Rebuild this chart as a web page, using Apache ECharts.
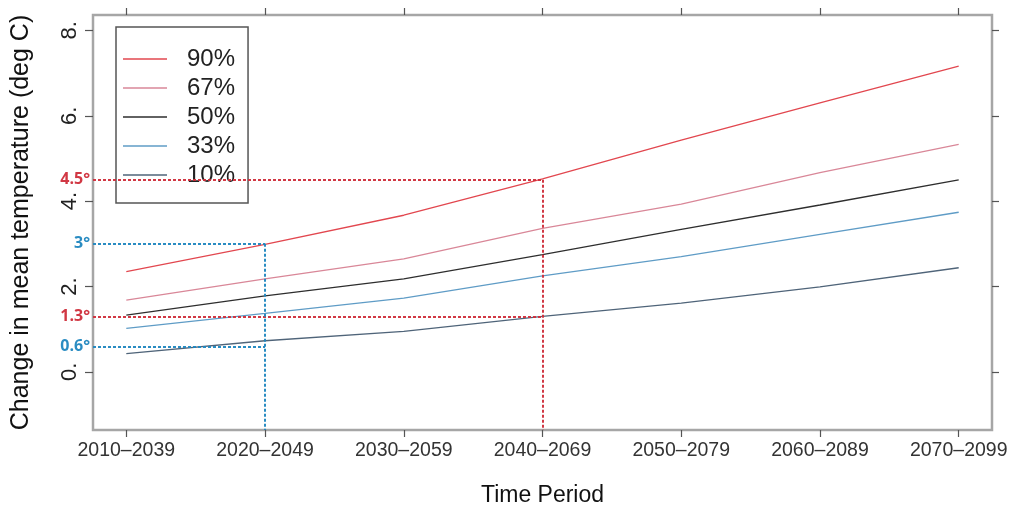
<!DOCTYPE html>
<html>
<head>
<meta charset="utf-8">
<script src="https://cdn.jsdelivr.net/npm/echarts@6/dist/echarts.min.js"></script>
<style>
  html, body { margin: 0; padding: 0; background: #ffffff; }
  #chart { width: 1010px; height: 506px; }
</style>
</head>
<body>
<div id="chart"></div>
<script>
// 30-year time periods on the x axis
const periods = ['2010\u20132039', '2020\u20132049', '2030\u20132059', '2040\u20132069',
                 '2050\u20132079', '2060\u20132089', '2070\u20132099'];

// Projected change in mean temperature (deg C) per probability level
const p90 = [2.35, 2.99, 3.67, 4.52, 5.43, 6.30, 7.16];
const p67 = [1.68, 2.18, 2.65, 3.36, 3.93, 4.67, 5.33];
const p50 = [1.33, 1.78, 2.18, 2.75, 3.34, 3.91, 4.50];
const p33 = [1.02, 1.37, 1.73, 2.25, 2.70, 3.22, 3.74];
const p10 = [0.43, 0.73, 0.95, 1.30, 1.61, 1.99, 2.44];

const seriesNames = ['90%', '67%', '50%', '33%', '10%'];

// y tick values and their printed labels
const yTicks = [0, 2, 4, 6, 8];
const yTickLabels = ['0.', '2.', '4.', '6.', '8.'];

// Highlighted readings: [value, period index, label]
const redMarks = [[4.5, 3, '4.5\u00b0'], [1.3, 3, '1.3\u00b0']];
const blueMarks = [[3, 1, '3\u00b0'], [0.6, 1, '0.6\u00b0']];

const X_MIN = -0.24, X_MAX = 6.24;
const Y_MIN = -1.36, Y_MAX = 8.36;
const X_TICKS = [0, 1, 2, 3, 4, 5, 6];

const colors = ['#e2474f', '#d98798', '#2e2e2e', '#5f9cc6', '#4f6479'];
const RED = '#cf2d3a', BLUE = '#1f86bf';
const FONT = '"Liberation Sans", Arial, Helvetica, sans-serif';
const TICK_STYLE = { color: '#555555', width: 1.2 };

function toPoints(arr) { return arr.map((v, i) => [i, v]); }

function refLines(marks, color, dropFrom) {
  const lines = [];
  marks.forEach(function (m) {
    lines.push([
      { coord: [X_MIN, m[0]], label: { formatter: m[2] } },
      { coord: [m[1], m[0]] }
    ]);
  });
  // vertical drop from the highest reading down to the axis
  lines.push([
    { coord: [dropFrom[1], dropFrom[0]], label: { show: false } },
    { coord: [dropFrom[1], Y_MIN] }
  ]);
  return {
    name: 'ref-' + color,
    type: 'line',
    data: [],
    silent: true,
    markLine: {
      silent: true,
      symbol: ['none', 'none'],
      animation: false,
      lineStyle: { color: color, width: 2, type: [3, 2], opacity: 0.95 },
      label: {
        show: true,
        position: 'start',
        distance: 3,
        color: color,
        fontFamily: '"Open Sans", sans-serif',
        fontWeight: 'bold',
        fontSize: 16
      },
      data: lines
    },
    z: 5
  };
}

const dataSeries = [p90, p67, p50, p33, p10].map(function (arr, k) {
  return {
    name: seriesNames[k],
    type: 'line',
    data: toPoints(arr),
    symbol: 'none',
    smooth: false,
    lineStyle: { color: colors[k], width: 1.3 },
    itemStyle: { color: colors[k] },
    z: 3
  };
});

const chart = echarts.init(document.getElementById('chart'), null, { renderer: 'canvas' });

chart.setOption({
  animation: false,
  backgroundColor: '#ffffff',
  grid: {
    left: 93, right: 18, top: 15, bottom: 76,
    outerBoundsMode: 'none',
    containLabel: false,
    show: true, borderColor: '#a6a6a6', borderWidth: 2.5, backgroundColor: 'transparent'
  },
  legend: {
    data: seriesNames,
    icon: 'rect',
    orient: 'vertical',
    left: 116, top: 27,
    itemWidth: 44, itemHeight: 1.5,
    itemGap: 5,
    padding: [20, 13, 16, 7],
    borderColor: '#555555', borderWidth: 1.5,
    backgroundColor: '#ffffff',
    textStyle: { fontFamily: FONT, fontSize: 24, color: '#222222', padding: [0, 0, 0, 15] },
    selectedMode: false
  },
  xAxis: [
    {
      type: 'value', min: X_MIN, max: X_MAX,
      name: 'Time Period', nameLocation: 'middle', nameGap: 54,
      nameTextStyle: { fontFamily: FONT, fontSize: 23, color: '#111111' },
      splitLine: { show: false },
      axisLine: { show: false, onZero: false },
      axisTick: { show: true, customValues: X_TICKS, length: 7, lineStyle: TICK_STYLE },
      axisLabel: {
        customValues: X_TICKS,
        formatter: function (v) { return periods[Math.round(v)]; },
        fontFamily: FONT, fontSize: 19.5, color: '#333333', margin: 11
      }
    },
    {
      type: 'value', position: 'top', min: X_MIN, max: X_MAX,
      splitLine: { show: false },
      axisLine: { show: false, onZero: false },
      axisTick: { show: true, customValues: X_TICKS, length: 7, lineStyle: TICK_STYLE },
      axisLabel: { show: false }
    }
  ],
  yAxis: [
    {
      type: 'value', min: Y_MIN, max: Y_MAX,
      name: 'Change in mean temperature (deg C)', nameLocation: 'middle', nameGap: 59, nameRotate: 90,
      nameTextStyle: { fontFamily: FONT, fontSize: 25, color: '#111111' },
      splitLine: { show: false },
      axisLine: { show: false, onZero: false },
      axisTick: { show: true, customValues: yTicks, length: 8, lineStyle: TICK_STYLE },
      axisLabel: {
        customValues: yTicks,
        formatter: function (v) { return yTickLabels[yTicks.indexOf(Math.round(v))]; },
        rotate: 90, fontFamily: FONT, fontSize: 22, color: '#222222', margin: 12
      }
    },
    {
      type: 'value', position: 'right', min: Y_MIN, max: Y_MAX,
      splitLine: { show: false },
      axisLine: { show: false, onZero: false },
      axisTick: { show: true, customValues: yTicks, length: 7, lineStyle: TICK_STYLE },
      axisLabel: { show: false }
    }
  ],
  series: dataSeries.concat([
    refLines(redMarks, RED, redMarks[0]),
    refLines(blueMarks, BLUE, blueMarks[0])
  ])
});
</script>
</body>
</html>
